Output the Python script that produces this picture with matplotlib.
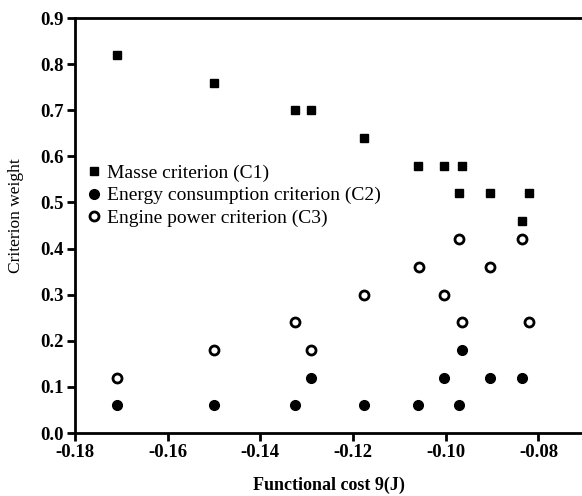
import matplotlib
matplotlib.use('Agg')
import matplotlib.pyplot as plt

# criterion weights
c1_cost = [-0.171, -0.150, -0.1325, -0.129, -0.1176, -0.106, -0.1004, -0.0964, -0.0972, -0.0905, -0.082, -0.0835]
c1_weight = [0.82, 0.76, 0.70, 0.70, 0.64, 0.58, 0.58, 0.58, 0.52, 0.52, 0.52, 0.46]

c2_cost = [-0.171, -0.150, -0.1325, -0.129, -0.1176, -0.106, -0.1004, -0.0972, -0.0966, -0.0905, -0.0835]
c2_weight = [0.06, 0.06, 0.06, 0.12, 0.06, 0.06, 0.12, 0.06, 0.18, 0.12, 0.12]

c3_cost = [-0.171, -0.150, -0.1325, -0.129, -0.1176, -0.1057, -0.1004, -0.0964, -0.0905, -0.082, -0.0972, -0.0835]
c3_weight = [0.12, 0.18, 0.24, 0.18, 0.30, 0.36, 0.30, 0.24, 0.36, 0.24, 0.42, 0.42]

x_ticks = [-0.18, -0.16, -0.14, -0.12, -0.10, -0.08]
y_ticks = [0.0, 0.1, 0.2, 0.3, 0.4, 0.5, 0.6, 0.7, 0.8, 0.9]

plt.rcParams['font.family'] = ['Liberation Serif', 'DejaVu Serif']

fig = plt.figure(figsize=(5.82, 4.96), dpi=100)
ax = fig.add_axes([0.1289, 0.127, 0.8711, 0.8367])

ax.plot(c1_cost, c1_weight, 's', color='black', markersize=6, linestyle='none',
        label='Masse criterion (C1)')
ax.plot(c2_cost, c2_weight, 'o', color='black', markersize=7, linestyle='none',
        label='Energy consumption criterion (C2)')
ax.plot(c3_cost, c3_weight, 'o', markerfacecolor='white', markeredgecolor='black',
        markeredgewidth=2, markersize=6.5, linestyle='none',
        label='Engine power criterion (C3)')

ax.set_xlim(-0.18, -0.0706)
ax.set_ylim(0.0, 0.9)
ax.set_xticks(x_ticks)
ax.set_yticks(y_ticks)
ax.set_xticklabels(['%.2f' % v for v in x_ticks], fontsize=13.5, fontweight='bold')
ax.set_yticklabels(['%.1f' % v for v in y_ticks], fontsize=13.5, fontweight='bold')
ax.tick_params(direction='out', length=6, width=2, pad=2)

for side in ['left', 'bottom', 'top']:
    ax.spines[side].set_linewidth(2)
ax.spines['right'].set_visible(False)

ax.set_xlabel('Functional cost 9(J)', fontsize=13, fontweight='bold', labelpad=11)
ax.set_ylabel('Criterion weight', fontsize=12.5)
ax.yaxis.set_label_coords(-0.1, 0.523)

ax.legend(loc='center left', bbox_to_anchor=(0.004, 0.572), frameon=False,
          fontsize=14, handletextpad=0.25, labelspacing=0.25, handlelength=0.9,
          borderaxespad=0)

fig.savefig('out.png', dpi=100)
